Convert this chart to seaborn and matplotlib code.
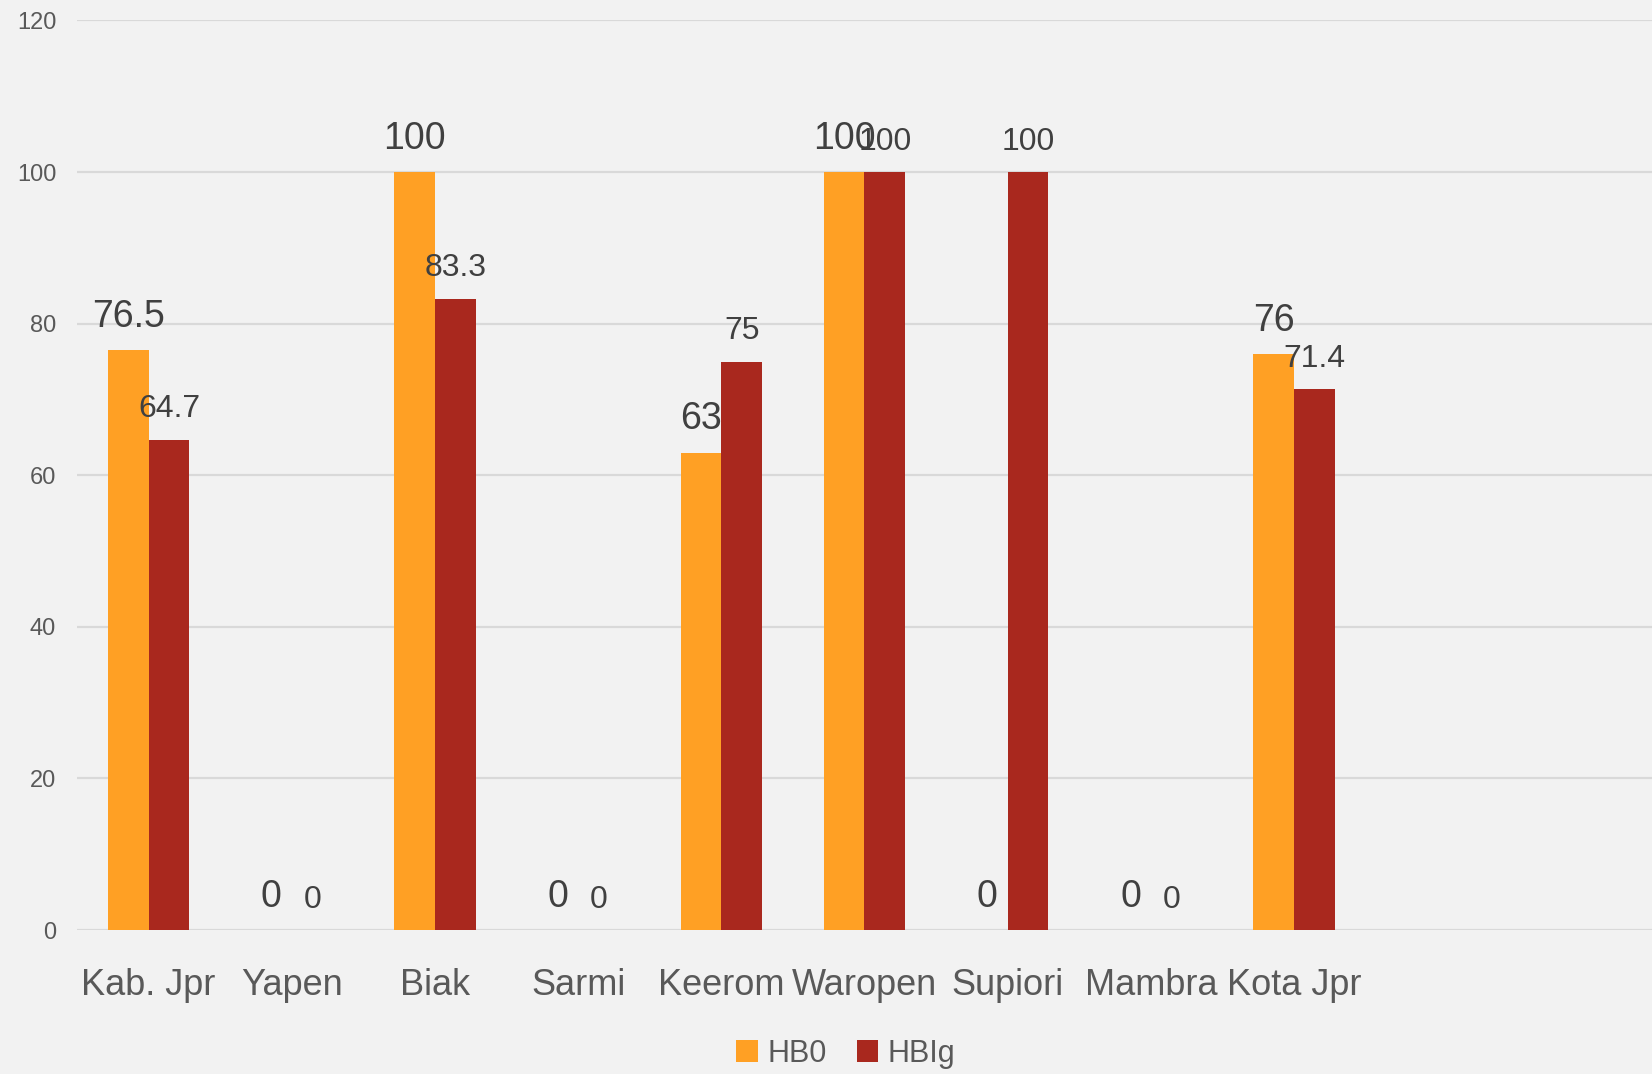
import pandas as pd
import numpy as np
import matplotlib
matplotlib.use("Agg")
import matplotlib.pyplot as plt
import seaborn as sns

# Data
categories = ["Kab. Jpr", "Yapen", "Biak", "Sarmi", "Keerom", "Waropen",
              "Supiori", "Mambra", "Kota Jpr", " ", "  "]
hb0 = [76.5, 0, 100, 0, 63, 100, 0, 0, 76]
hbig = [64.7, 0, 83.3, 0, 75, 100, 100, 0, 71.4]
series = ["HB0", "HBIg"]
colors = ["#FFA024", "#A9281E"]

df = pd.DataFrame({
    "region": categories[:9] * 2,
    "value": hb0 + hbig,
    "series": ["HB0"] * 9 + ["HBIg"] * 9,
})

sns.set_style("white")
plt.rcParams['font.family'] = ['Liberation Sans', 'DejaVu Sans']

fig = plt.figure(figsize=(16.52, 10.74), dpi=100, facecolor="#f2f2f2")
ax = fig.add_axes([0.0466, 0.134, 0.9534, 0.847])
ax.set_facecolor("#f2f2f2")

sns.barplot(data=df, x="region", y="value", hue="series", order=categories,
            hue_order=series, palette=colors, width=0.57, saturation=1,
            errorbar=None, ax=ax, zorder=3, linewidth=0)

ax.set_ylim(0, 120)
ax.set_xlim(-0.5, 10.5)
ax.set_yticks(np.arange(0, 121, 20))
ax.yaxis.grid(True, color="#d9d9d9", linewidth=1.6, zorder=0)
ax.set_axisbelow(True)
for s in ax.spines.values():
    s.set_visible(False)
ax.set_xlabel("")
ax.set_ylabel("")
ax.tick_params(axis="y", length=0, pad=15, labelsize=17, labelcolor="#595959")
ax.tick_params(axis="x", length=0, pad=27, labelcolor="#595959")
ax.set_xticks(range(len(categories)))
ax.set_xticklabels(categories, fontsize=26)

# value labels
sizes = [27, 23]
for cont, fs in zip(ax.containers, sizes):
    ax.bar_label(cont, fmt="%g", padding=11, fontsize=fs, color="#404040")

leg = ax.legend(loc="center", bbox_to_anchor=(0.512, 0.019),
                bbox_transform=fig.transFigure, ncol=2, frameon=False,
                fontsize=22, handlelength=0.7, handleheight=0.7,
                handletextpad=0.3, columnspacing=1.0)
for t in leg.get_texts():
    t.set_color("#595959")

fig.savefig("out.png", dpi=100, facecolor=fig.get_facecolor())
